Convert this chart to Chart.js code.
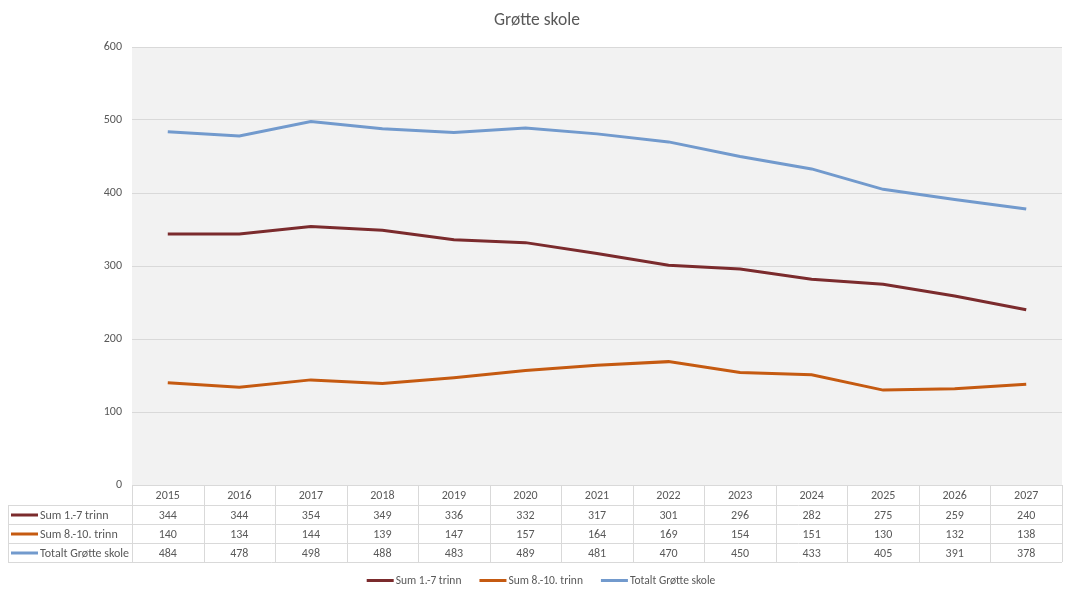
<!DOCTYPE html>
<html>
<head>
<meta charset="utf-8">
<script src="https://cdn.jsdelivr.net/npm/chart.js@4/dist/chart.umd.min.js"></script>
<style>
html,body{margin:0;padding:0;background:#fff;}
#wrap{width:1065px;height:589px;position:relative;}
</style>
</head>
<body>
<div id="wrap"><canvas id="c" width="1065" height="589"></canvas></div>
<script>
const years = ['2015','2016','2017','2018','2019','2020','2021','2022','2023','2024','2025','2026','2027'];
const sum1to7 = [344,344,354,349,336,332,317,301,296,282,275,259,240];
const sum8to10 = [140,134,144,139,147,157,164,169,154,151,130,132,138];
const totalt = [484,478,498,488,483,489,481,470,450,433,405,391,378];
const seriesNames = ['Sum 1.-7 trinn','Sum 8.-10. trinn','Totalt Grøtte skole'];
const seriesColors = ['#7b2b2d','#c55a11','#729acd'];
const yTicks = [0,100,200,300,400,500,600];

const FONT = 'Carlito, "Liberation Sans", Arial, sans-serif';
const TXT = '#595959';
const GRID = '#d9d9d9';
const seriesData = [sum1to7, sum8to10, totalt];

const bgPlugin = {
  id: 'plotBg',
  beforeDraw(chart) {
    const {ctx, chartArea: a} = chart;
    ctx.save();
    ctx.fillStyle = '#f2f2f2';
    ctx.fillRect(a.left, a.top, a.right - a.left, a.bottom - a.top);
    ctx.restore();
  }
};

const tablePlugin = {
  id: 'dataTable',
  afterDraw(chart) {
    const {ctx, chartArea: a} = chart;
    const xs = chart.scales.x;
    const n = years.length;
    const w = (a.right - a.left) / n;
    const top = a.bottom;
    const hdrH = 20, rowH = 19;
    const leftX = 8;
    const rowsY = [top, top + hdrH];
    for (let i = 0; i < seriesData.length; i++) rowsY.push(top + hdrH + rowH * (i + 1));
    const bottom = rowsY[rowsY.length - 1];
    ctx.save();
    ctx.strokeStyle = GRID;
    ctx.lineWidth = 1;
    ctx.beginPath();
    ctx.moveTo(a.left, Math.round(top) + 0.5); ctx.lineTo(a.right, Math.round(top) + 0.5);
    for (let r = 1; r < rowsY.length; r++) {
      const y = Math.round(rowsY[r]) + 0.5;
      ctx.moveTo(leftX, y); ctx.lineTo(a.right, y);
    }
    for (let i = 0; i <= n; i++) {
      const x = Math.round(a.left + w * i) + 0.5;
      ctx.moveTo(x, top); ctx.lineTo(x, bottom);
    }
    ctx.moveTo(leftX + 0.5, rowsY[1]); ctx.lineTo(leftX + 0.5, bottom);
    ctx.stroke();

    ctx.font = '12px ' + FONT;
    ctx.fillStyle = TXT;
    ctx.textAlign = 'center';
    ctx.textBaseline = 'middle';
    for (let i = 0; i < n; i++) {
      const cx = xs.getPixelForValue(i);
      ctx.fillText(years[i], cx, top + hdrH / 2 + 1);
      for (let s = 0; s < seriesData.length; s++) {
        const cy = rowsY[s + 1] + rowH / 2 + 1;
        ctx.fillText(String(seriesData[s][i]), cx, cy);
      }
    }
    ctx.textAlign = 'left';
    for (let s = 0; s < seriesData.length; s++) {
      const cy = rowsY[s + 1] + rowH / 2 + 1;
      ctx.strokeStyle = seriesColors[s];
      ctx.lineWidth = 3;
      ctx.beginPath();
      ctx.moveTo(11, cy - 0.5); ctx.lineTo(38, cy - 0.5);
      ctx.stroke();
      ctx.fillText(seriesNames[s], 40, cy);
    }

    // legend
    ctx.font = '11.5px ' + FONT;
    const lineW = 27, gapIn = 2, gapOut = 18;
    let total = 0;
    const widths = seriesNames.map(t => ctx.measureText(t).width);
    widths.forEach((tw, i) => { total += lineW + gapIn + tw + (i < widths.length - 1 ? gapOut : 0); });
    let x = 541 - total / 2;
    const ly = 581;
    for (let s = 0; s < seriesNames.length; s++) {
      ctx.strokeStyle = seriesColors[s];
      ctx.lineWidth = 3;
      ctx.beginPath();
      ctx.moveTo(x, ly - 0.5); ctx.lineTo(x + lineW, ly - 0.5);
      ctx.stroke();
      ctx.fillText(seriesNames[s], x + lineW + gapIn, ly);
      x += lineW + gapIn + widths[s] + gapOut;
    }
    ctx.restore();
  }
};

const mkDs = (i) => ({
  label: seriesNames[i],
  data: seriesData[i],
  borderColor: seriesColors[i],
  backgroundColor: seriesColors[i],
  borderWidth: 3,
  pointRadius: 0,
  pointHoverRadius: 0,
  tension: 0,
  fill: false
});

new Chart(document.getElementById('c'), {
  type: 'line',
  data: { labels: years, datasets: [mkDs(0), mkDs(1), mkDs(2)] },
  options: {
    responsive: false,
    animation: false,
    events: [],
    layout: { padding: { left: 12, right: 3, top: 0, bottom: 27 } },
    plugins: {
      title: {
        display: true,
        text: 'Grøtte skole',
        color: TXT,
        font: { family: FONT, size: 17.5, weight: 'normal' },
        padding: { top: 10.5, bottom: 15.5 }
      },
      legend: { display: false },
      tooltip: { enabled: false }
    },
    scales: {
      x: {
        type: 'category',
        offset: true,
        grid: { display: false },
        border: { display: false },
        ticks: { display: false },
        afterFit(scale) { scale.height = 77; }
      },
      y: {
        min: 0, max: 600,
        afterBuildTicks(scale) { scale.ticks = yTicks.map(v => ({ value: v })); },
        ticks: { color: TXT, font: { family: FONT, size: 12 }, padding: 10 },
        grid: { color: GRID, drawTicks: false, lineWidth: 1 },
        border: { display: false },
        afterFit(scale) { scale.width = 120; }
      }
    }
  },
  plugins: [bgPlugin, tablePlugin]
});
</script>
</body>
</html>
